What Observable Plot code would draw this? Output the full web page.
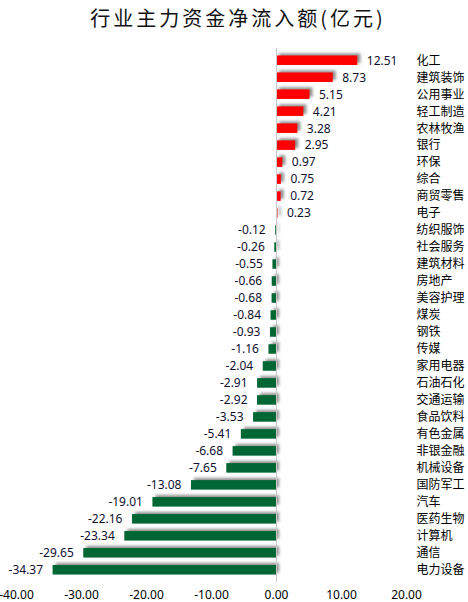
<!DOCTYPE html>
<html>
<head>
<meta charset="utf-8">
<script src="https://cdn.jsdelivr.net/npm/d3@7"></script>
<script src="https://cdn.jsdelivr.net/npm/@observablehq/plot@0.6"></script>
<style>
  html, body { margin: 0; padding: 0; background: #fff; }
  #title {
    width: 468px; height: 40px; line-height: 36px; text-align: center;
    font-family: "Noto Sans CJK SC", sans-serif; font-size: 20px;
    letter-spacing: 3px; color: #111; padding-left: 8px; box-sizing: border-box;
  }
</style>
</head>
<body>
<div id="title">行业主力资金净流入额(亿元)</div>
<div id="chart"></div>
<script>
const categories = ["化工","建筑装饰","公用事业","轻工制造","农林牧渔","银行","环保","综合","商贸零售","电子",
  "纺织服饰","社会服务","建筑材料","房地产","美容护理","煤炭","钢铁","传媒","家用电器","石油石化",
  "交通运输","食品饮料","有色金属","非银金融","机械设备","国防军工","汽车","医药生物","计算机","通信","电力设备"];
const values = [12.51,8.73,5.15,4.21,3.28,2.95,0.97,0.75,0.72,0.23,
  -0.12,-0.26,-0.55,-0.66,-0.68,-0.84,-0.93,-1.16,-2.04,-2.91,
  -2.92,-3.53,-5.41,-6.68,-7.65,-13.08,-19.01,-22.16,-23.34,-29.65,-34.37];
const xTicks = [-40,-30,-20,-10,0,10,20];

const data = categories.map((c, i) => ({category: c, value: values[i]}));
const pos = data.filter(d => d.value >= 0);
const neg = data.filter(d => d.value < 0);

const chart = Plot.plot({
  width: 468,
  height: 562,
  marginLeft: 16,
  marginRight: 62,
  marginTop: 8,
  marginBottom: 20,
  style: {fontFamily: '"Noto Sans", "Noto Sans CJK SC", sans-serif', fontSize: "12px", color: "#000", background: "#fff"},
  x: {domain: [-40, 20], ticks: xTicks, tickFormat: d => d.toFixed(2), label: null},
  y: {domain: categories, padding: 0.44, label: null},
  marks: [
    Plot.barX(data, {
      x: "value", y: "category",
      fill: d => d.value >= 0 ? "#ff0000" : "#006633"
    }),
    Plot.ruleX([0], {stroke: "#c8c8c8", strokeWidth: 1}),
    Plot.text(pos, {x: "value", y: "category", text: d => d.value.toFixed(2), dx: 9, textAnchor: "start", fill: "#101030", fontSize: 12}),
    Plot.text(neg, {x: "value", y: "category", text: d => d.value.toFixed(2), dx: -10, textAnchor: "end", fill: "#101030", fontSize: 12}),
    Plot.axisX({anchor: "bottom", ticks: xTicks, tickFormat: d => d.toFixed(2), tickSize: 0, tickPadding: 8, fontSize: 12, label: null}),
    Plot.axisY({anchor: "right", tickSize: 0, tickPadding: 10, fontSize: 12, label: null, fontFamily: '"Noto Sans CJK SC", sans-serif'})
  ]
});
document.getElementById("chart").appendChild(chart);
d3.select(chart).selectAll('g[aria-label="bar"]').style("filter", "drop-shadow(3px -2px 1.5px rgba(0,0,0,0.45))");
</script>
</body>
</html>
